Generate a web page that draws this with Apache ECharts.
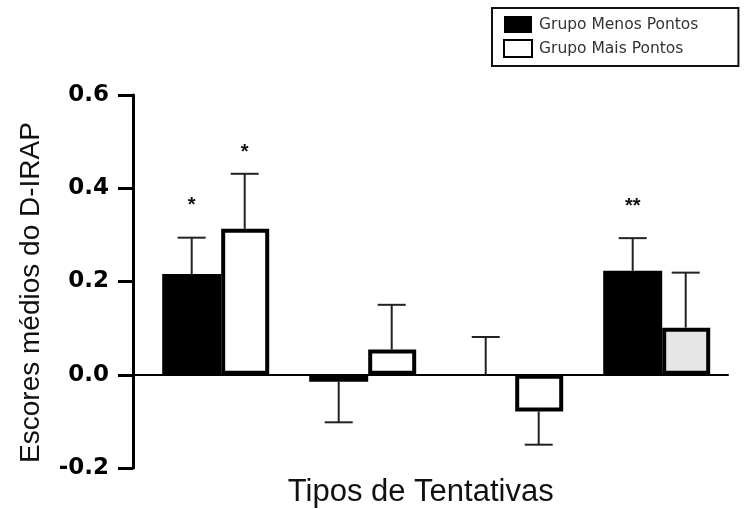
<!DOCTYPE html>
<html>
<head>
<meta charset="utf-8">
<script src="https://cdn.jsdelivr.net/npm/echarts@6/dist/echarts.min.js"></script>
<style>
html,body{margin:0;padding:0;background:#fff;}
#chart{width:744px;height:509px;}
</style>
</head>
<body>
<div id="chart"></div>
<script>
// ---- data ----
const categories = ['Tentativa 1', 'Tentativa 2', 'Tentativa 3', 'Tentativa 4'];
const seriesNames = ['Grupo Menos Pontos', 'Grupo Mais Pontos'];
const menosMean = [0.216, -0.015, 0.0, 0.223];
const menosErrEnd = [0.294, -0.102, 0.081, 0.293];
const maisMean = [0.313, 0.054, -0.079, 0.101];
const maisErrEnd = [0.431, 0.150, -0.150, 0.219];
const menosStars = ['*', '', '', '**'];
const maisStars = ['*', '', '', ''];
const yTicks = [-0.2, 0.0, 0.2, 0.4, 0.6];

// ---- layout / style ----
const BLACK_W = 59, WHITE_W = 48, WHITE_BORDER = 4;
const OFF_BLACK = -24, OFF_WHITE = 29;
const STAR_OFF = [-32, -21];

const chart = echarts.init(document.getElementById('chart'));

const errData = [];
categories.forEach((c, i) => {
  errData.push([i, menosMean[i], menosErrEnd[i], 0]);
  errData.push([i, maisMean[i], maisErrEnd[i], 1]);
});

const option = {
  animation: false,
  backgroundColor: '#fff',
  legend: {
    orient: 'vertical',
    left: 492, top: 8,
    padding: [8, 40, 8, 11],
    itemGap: 6,
    itemWidth: 28, itemHeight: 17,
    icon: 'rect',
    borderColor: '#111', borderWidth: 2,
    selectedMode: false,
    textStyle: {fontFamily: 'DejaVu Sans', fontSize: 15.5, color: '#333', padding: [0,0,0,2]},
    data: [
      {name: seriesNames[0], itemStyle: {color: '#000', borderWidth: 0}},
      {name: seriesNames[1], itemStyle: {color: '#fff', borderColor: '#000', borderWidth: 2}}
    ]
  },
  grid: [
    {left: 133, right: 16, top: 95, bottom: 41, outerBoundsMode: 'none'},
    {left: 142.2, right: 13.8, top: 95, bottom: 41, outerBoundsMode: 'none'}
  ],
  xAxis: [
    {gridIndex: 0, type: 'value', min: 0, max: 1,
     axisLine: {show: true, onZero: true, lineStyle: {color: '#000', width: 2}},
     axisTick: {show: false}, axisLabel: {show: false}, splitLine: {show: false}},
    {gridIndex: 1, type: 'category', data: categories,
     axisLine: {show: false, onZero: false}, axisTick: {show: false}, axisLabel: {show: false},
     name: 'Tipos de Tentativas', nameLocation: 'middle', nameGap: 9,
     nameTextStyle: {fontFamily: 'Liberation Sans', fontSize: 31, color: '#111', verticalAlign: 'top', padding: [0, 31, 0, 0]}}
  ],
  yAxis: [
    {gridIndex: 0, type: 'value', min: yTicks[0], max: yTicks[yTicks.length-1], interval: 0.2,
     axisLine: {show: true, lineStyle: {color: '#000', width: 3}},
     axisTick: {show: true, length: 15, lineStyle: {color: '#000', width: 3}},
     splitLine: {show: false},
     axisLabel: {margin: 24, fontFamily: 'DejaVu Sans', fontWeight: 'bold', fontSize: 23, color: '#000',
       formatter: v => v.toFixed(1)},
     name: 'Escores médios do D-IRAP', nameLocation: 'middle', nameGap: 88,
     nameTextStyle: {fontFamily: 'Liberation Sans', fontSize: 28, color: '#111', padding: [0, 22, 0, 0]}},
    {gridIndex: 1, type: 'value', min: yTicks[0], max: yTicks[yTicks.length-1], interval: 0.2, show: false}
  ],
  series: [
    {name: seriesNames[0], type: 'bar', xAxisIndex: 1, yAxisIndex: 1,
     barWidth: BLACK_W, barGap: 0,
     itemStyle: {color: '#000'},
     data: menosMean},
    {name: seriesNames[1], type: 'bar', xAxisIndex: 1, yAxisIndex: 1,
     barWidth: WHITE_W, barGap: 0,
     itemStyle: {color: '#fff', borderColor: '#000', borderWidth: WHITE_BORDER},
     data: maisMean.map((v, i) => ({value: v, itemStyle: {color: i === 3 ? '#e6e6e6' : '#fff'}}))},
    {type: 'custom', xAxisIndex: 1, yAxisIndex: 1, z: 5,
     data: errData,
     renderItem: function (params, api) {
       const cat = api.value(0), mean = api.value(1), end = api.value(2), s = api.value(3);
       const base = api.coord([cat, mean]);
       const tip = api.coord([cat, end]);
       const x = base[0] + (s === 0 ? OFF_BLACK : OFF_WHITE);
       const star = (s === 0 ? menosStars : maisStars)[cat];
       const children = [
         {type: 'line', shape: {x1: x, y1: base[1], x2: x, y2: tip[1]}, style: {stroke: '#222', lineWidth: 2}},
         {type: 'line', shape: {x1: x - 14, y1: tip[1], x2: x + 14, y2: tip[1]}, style: {stroke: '#222', lineWidth: 2}}
       ];
       if (star) {
         children.push({type: 'text', style: {text: star, x: x, y: tip[1] + STAR_OFF[s], align: 'center', verticalAlign: 'middle',
           font: 'bold 20px "Liberation Sans"', fill: '#111'}});
       }
       return {type: 'group', children: children};
     }}
  ]
};
chart.setOption(option);
</script>
</body>
</html>
